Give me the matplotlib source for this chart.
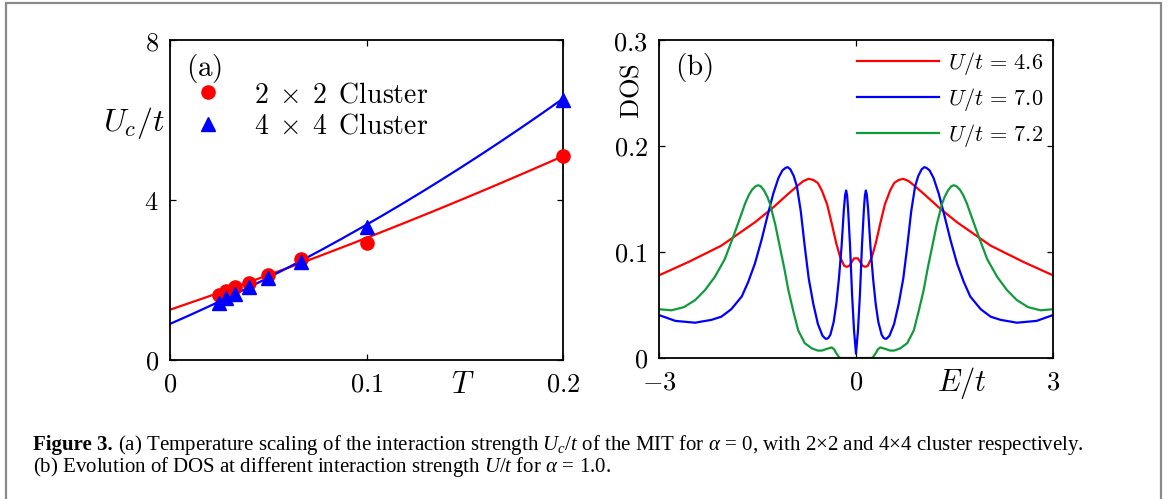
import numpy as np
import matplotlib
matplotlib.use("Agg")
import matplotlib.pyplot as plt
from matplotlib.patches import Rectangle
from matplotlib.lines import Line2D

plt.rcParams['mathtext.fontset'] = 'cm'
plt.rcParams['mathtext.rm'] = 'Liberation Serif'
plt.rcParams['mathtext.it'] = 'Liberation Serif:italic'
plt.rcParams['mathtext.bf'] = 'Liberation Serif:bold'
plt.rcParams['font.family'] = ['DejaVu Serif']

# ---------------- data: panel (a) ----------------
T_vals = [0.025, 0.0286, 0.0333, 0.04, 0.05, 0.0667, 0.1, 0.2]
Uc_2x2 = [1.62, 1.73, 1.83, 1.93, 2.12, 2.53, 2.92, 5.11]
Uc_4x4 = [1.43, 1.54, 1.65, 1.83, 2.04, 2.46, 3.33, 6.50]
# fitted curves
T_fit = [0.0, 0.05, 0.1, 0.15, 0.2]
fit_2x2 = [1.25, 2.14, 3.04, 4.04, 5.10]
fit_4x4 = [0.92, 2.04, 3.33, 4.96, 6.50]
label_2x2 = r'$2\;\times\;2\ \,\mathrm{Cluster}$'
label_4x4 = r'$4\;\times\;4\ \,\mathrm{Cluster}$'
a_xticks = [0, 0.1, 0.2]
a_xticklabels = ['0', '0.1', '0.2']
a_yticks = [0, 4, 8]
a_yticklabels = ['0', '4', '8']

# ---------------- data: panel (b) ----------------
E_red = [-3.0, -2.55, -2.05, -1.54, -1.28, -1.03, -0.88, -0.80, -0.72, -0.65, -0.58, -0.52, -0.44,
         -0.37, -0.30, -0.24, -0.18, -0.14, -0.10, -0.06, -0.03, 0.0,
         0.03, 0.06, 0.10, 0.14, 0.18, 0.24, 0.30, 0.37, 0.44, 0.52, 0.58, 0.65, 0.72, 0.80,
         0.88, 1.03, 1.28, 1.54, 2.05, 2.55, 3.0]
dos_46 = [0.078, 0.0906, 0.106, 0.128, 0.141, 0.155, 0.163, 0.167, 0.169, 0.168, 0.165, 0.158, 0.145,
          0.127, 0.108, 0.095, 0.087, 0.086, 0.087, 0.091, 0.094, 0.094,
          0.094, 0.091, 0.087, 0.086, 0.087, 0.095, 0.108, 0.127, 0.145, 0.158, 0.165, 0.168, 0.169, 0.167,
          0.163, 0.155, 0.141, 0.128, 0.106, 0.0906, 0.078]

E_blue = [-3.0, -2.75, -2.45, -2.2, -2.05, -1.9, -1.74, -1.64, -1.54, -1.44, -1.34, -1.26,
          -1.18, -1.12, -1.07, -1.04, -1.00, -0.95, -0.90, -0.84, -0.78, -0.72, -0.65, -0.58, -0.51,
          -0.47, -0.45, -0.42, -0.39, -0.34, -0.30, -0.26, -0.22, -0.185, -0.165, -0.15, -0.135,
          -0.12, -0.09, -0.06, -0.03, 0.0,
          0.03, 0.06, 0.09, 0.12, 0.135, 0.15, 0.165, 0.185, 0.22, 0.26, 0.30, 0.34,
          0.39, 0.42, 0.45, 0.47, 0.51, 0.58, 0.65, 0.72, 0.78, 0.84, 0.90, 0.95, 1.00, 1.04, 1.07,
          1.12, 1.18, 1.26, 1.34, 1.44, 1.54, 1.64, 1.74, 1.9, 2.05, 2.2, 2.45, 2.75, 3.0]
dos_70 = [0.0405, 0.035, 0.0333, 0.036, 0.039, 0.046, 0.058, 0.072, 0.089, 0.111, 0.136, 0.155,
          0.170, 0.177, 0.1795, 0.180, 0.178, 0.172, 0.162, 0.138, 0.105, 0.075, 0.051, 0.032, 0.021,
          0.0185, 0.018, 0.019, 0.022, 0.034, 0.051, 0.075, 0.105, 0.140, 0.154, 0.158, 0.153,
          0.140, 0.105, 0.060, 0.026, 0.004,
          0.026, 0.060, 0.105, 0.140, 0.153, 0.158, 0.154, 0.140, 0.105, 0.075, 0.051, 0.034,
          0.022, 0.019, 0.018, 0.0185, 0.021, 0.032, 0.051, 0.075, 0.105, 0.138, 0.162, 0.172, 0.178, 0.180, 0.1795,
          0.177, 0.170, 0.155, 0.136, 0.111, 0.089, 0.072, 0.058, 0.046, 0.039, 0.036, 0.0333, 0.035, 0.0405]

E_green = [-3.0, -2.81, -2.62, -2.45, -2.3, -2.15, -2.0, -1.89, -1.79, -1.69, -1.63, -1.58, -1.53,
           -1.49, -1.45, -1.40, -1.35, -1.31, -1.23, -1.16, -1.09, -1.03, -0.95, -0.88, -0.78, -0.67, -0.58,
           -0.52, -0.45, -0.37, -0.33, -0.30, -0.26, -0.24, 0.0,
           0.24, 0.26, 0.30, 0.33, 0.37, 0.45, 0.52, 0.58, 0.67, 0.78, 0.88, 0.95, 1.03,
           1.09, 1.16, 1.23, 1.31, 1.35, 1.40, 1.45, 1.49, 1.53, 1.58, 1.63, 1.69, 1.79, 1.89, 2.0, 2.15, 2.3,
           2.45, 2.62, 2.81, 3.0]
dos_72 = [0.046, 0.045, 0.048, 0.0546, 0.064, 0.0765, 0.093, 0.111, 0.128, 0.1455, 0.154, 0.159, 0.162,
          0.163, 0.162, 0.158, 0.152, 0.1455, 0.126, 0.105, 0.084, 0.064, 0.043, 0.026, 0.014, 0.009, 0.007,
          0.007, 0.0085, 0.010, 0.008, 0.0044, 0.001, 0.0, 0.0,
          0.0, 0.001, 0.0044, 0.008, 0.010, 0.0085, 0.007, 0.007, 0.009, 0.014, 0.026, 0.043, 0.064,
          0.084, 0.105, 0.126, 0.1455, 0.152, 0.158, 0.162, 0.163, 0.162, 0.159, 0.154, 0.1455, 0.128, 0.111, 0.093, 0.0765, 0.064,
          0.0546, 0.048, 0.045, 0.046]
b_labels = [r'$U/t\,=\,4.6$', r'$U/t\,=\,7.0$', r'$U/t\,=\,7.2$']
b_xticks = [-3, 0, 3]
b_xticklabels = [r'$-3$', '0', '3']
b_yticks = [0, 0.1, 0.2, 0.3]
b_yticklabels = ['0', '0.1', '0.2', '0.3']

RED, BLUE, GREEN = '#ff0000', '#0000ff', '#119a3c'
W, H = 1168, 499
fig = plt.figure(figsize=(W / 100, H / 100), dpi=100)

def px_axes(l, r, t, b):
    return [l / W, (H - b) / H, (r - l) / W, (b - t) / H]

def style(ax):
    for s in ax.spines.values():
        s.set_linewidth(1.3)
    ax.tick_params(direction='in', top=True, right=True, length=4, width=0.9,
                   labelsize=19, pad=8)

def cm_labels(ax, xt, xl, yt, yl):
    ax.set_xticks(xt)
    ax.set_xticklabels([r'$\mathrm{%s}$' % s if not s.startswith('$') else s for s in xl])
    ax.set_yticks(yt)
    ax.set_yticklabels([r'$\mathrm{%s}$' % s if not s.startswith('$') else s for s in yl])

# ---- panel (a)
axa = fig.add_axes(px_axes(170, 563, 40, 360))
style(axa)
Tf = np.linspace(0, 0.2, 200)
pr = np.polyfit(T_fit, fit_2x2, 2)
pb = np.polyfit(T_fit, fit_4x4, 2)
axa.plot(Tf, np.polyval(pr, Tf), color=RED, lw=1.6, zorder=2)
axa.plot(Tf, np.polyval(pb, Tf), color=BLUE, lw=1.6, zorder=2)
axa.plot(T_vals, Uc_2x2, 'o', color=RED, ms=9.5, zorder=3, clip_on=False)
axa.plot(T_vals, Uc_4x4, '^', color=BLUE, ms=10.5, zorder=4, clip_on=False)
axa.set_xlim(0, 0.2)
axa.set_ylim(0, 8)
cm_labels(axa, a_xticks, a_xticklabels, a_yticks, a_yticklabels)
axa.text(0.04, 0.91, r'$\mathrm{(a)}$', transform=axa.transAxes, fontsize=21,
         ha='left', va='center')
axa.text(-0.17, 0.74, r'$U_c/t$', transform=axa.transAxes, fontsize=23,
         ha='left', va='center')
axa.text(0.745, -0.078, r'$T$', transform=axa.transAxes, fontsize=22,
         ha='center', va='center')
ha_ = [Line2D([], [], ls='none', marker='o', color=RED, ms=9.5),
       Line2D([], [], ls='none', marker='^', color=BLUE, ms=10.5)]
axa.legend(ha_, [label_2x2, label_4x4], loc='upper left', bbox_to_anchor=(0.045, 0.889),
           frameon=False, fontsize=20, handlelength=1.05, handletextpad=1.15,
           labelspacing=0.15, borderpad=0.2, borderaxespad=0)

# ---- panel (b)
axb = fig.add_axes(px_axes(659, 1053, 40, 358))
style(axb)
axb.plot(E_red, dos_46, color=RED, lw=1.6, label=b_labels[0])
axb.plot(E_blue, dos_70, color=BLUE, lw=1.6, label=b_labels[1])
axb.plot(E_green, dos_72, color=GREEN, lw=1.6, label=b_labels[2])
axb.set_xlim(-3, 3)
axb.set_ylim(0, 0.3)
cm_labels(axb, b_xticks, b_xticklabels, b_yticks, b_yticklabels)
axb.text(0.04, 0.915, r'$\mathrm{(b)}$', transform=axb.transAxes, fontsize=21,
         ha='left', va='center')
axb.text(-0.07, 0.84, r'$\mathrm{DOS}$', transform=axb.transAxes, fontsize=19,
         ha='center', va='center', rotation=90)
axb.text(0.77, -0.078, r'$E/t$', transform=axb.transAxes, fontsize=22,
         ha='center', va='center')
axb.legend(loc='upper right', bbox_to_anchor=(1.0, 1.0), frameon=False, fontsize=16,
           handlelength=3.7, handletextpad=0.4, labelspacing=0.4, borderpad=0.45,
           borderaxespad=0)

# ---- figure frame
fig.add_artist(Rectangle((5.5 / W, -0.1), (1161 - 5.5) / W, (H - 3.5) / H + 0.1,
                         transform=fig.transFigure, fill=False, edgecolor='#8a8a8a',
                         lw=1.6, clip_on=False))

# ---- caption
cap_bold = 'Figure 3.'
cap1 = (r'(a) Temperature scaling of the interaction strength $U_c/t$ of the MIT for '
        r'$\alpha\,=\,0$, with 2$\times$2 and 4$\times$4 cluster respectively.')
cap2 = r'(b) Evolution of DOS at different interaction strength $U/t$ for $\alpha\,=\,1.0$.'
cfs = 15
tb = fig.text(33 / W, (H - 450) / H, cap_bold, fontsize=cfs, fontweight='bold',
              family='Liberation Serif', va='baseline', ha='left')
fig.canvas.draw()
r = fig.canvas.get_renderer()
wb = tb.get_window_extent(r).width
t1 = fig.text((33 + wb + 5) / W, (H - 450) / H, cap1, fontsize=cfs,
              family='Liberation Serif', va='baseline', ha='left', math_fontfamily='custom')
t2 = fig.text(33 / W, (H - 472) / H, cap2, fontsize=cfs,
              family='Liberation Serif', va='baseline', ha='left', math_fontfamily='custom')

fig.savefig('out.png', dpi=100)
